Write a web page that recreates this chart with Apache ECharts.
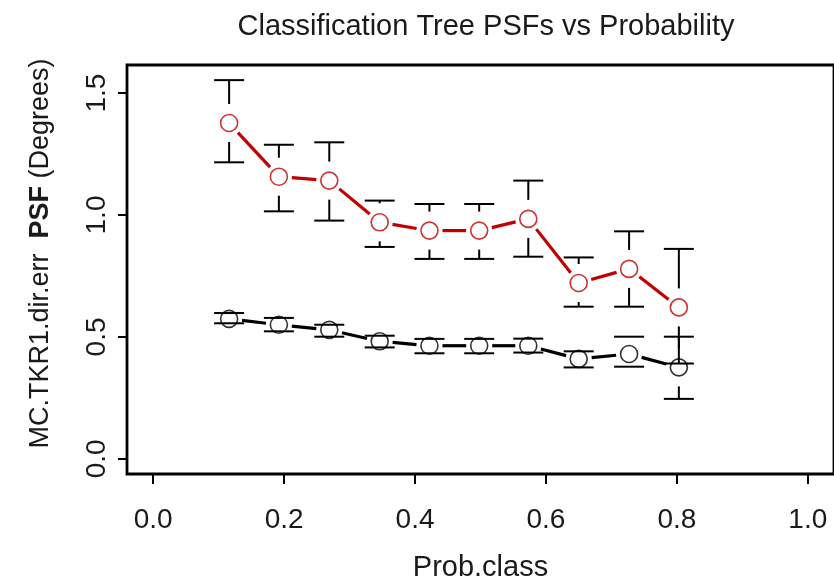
<!DOCTYPE html>
<html>
<head>
<meta charset="utf-8">
<script src="https://cdn.jsdelivr.net/npm/echarts@6/dist/echarts.min.js"></script>
<style>
  html, body { margin: 0; padding: 0; background: #fff; }
  #chart { width: 834px; height: 582px; }
</style>
</head>
<body>
<div id="chart"></div>
<script>
// Bin centres of the classification probability
const probClass = [0.116, 0.192, 0.269, 0.346, 0.422, 0.498, 0.573, 0.650, 0.727, 0.803];

// PSF (degrees), red series: mean with lower / upper error limits
const psfRed     = [1.377, 1.157, 1.141, 0.970, 0.936, 0.936, 0.984, 0.721, 0.779, 0.621];
const psfRedLow  = [1.216, 1.015, 0.977, 0.869, 0.820, 0.820, 0.829, 0.624, 0.624, 0.391];
const psfRedHigh = [1.553, 1.288, 1.298, 1.059, 1.045, 1.045, 1.141, 0.826, 0.933, 0.861];

// PSF (degrees), black series
const psfBlack     = [0.574, 0.550, 0.529, 0.482, 0.464, 0.464, 0.464, 0.410, 0.430, 0.375];
const psfBlackLow  = [0.556, 0.523, 0.501, 0.457, 0.433, 0.433, 0.436, 0.375, 0.378, 0.246];
const psfBlackHigh = [0.598, 0.578, 0.550, 0.505, 0.492, 0.492, 0.493, 0.441, 0.501, 0.501];

const xTicks = [0.0, 0.2, 0.4, 0.6, 0.8, 1.0];
const yTicks = [0.0, 0.5, 1.0, 1.5];

const FONT = '"Liberation Sans", Arial, sans-serif';
const RED = '#c00000';
const BLACK = '#000000';
const TEXT = '#1a1a1a';

// Error bar: caps at both limits, whiskers leave a gap around the point
function errorBarRenderer(color) {
  const cap = 15, gap = 19;
  return function (params, api) {
    const x = api.value(0);
    const c = api.coord([x, api.value(1)]);
    const lo = api.coord([x, api.value(2)]);
    const hi = api.coord([x, api.value(3)]);
    const style = { stroke: color, lineWidth: 2 };
    const children = [
      { type: 'line', shape: { x1: lo[0] - cap, y1: lo[1], x2: lo[0] + cap, y2: lo[1] }, style },
      { type: 'line', shape: { x1: hi[0] - cap, y1: hi[1], x2: hi[0] + cap, y2: hi[1] }, style }
    ];
    if (hi[1] < c[1] - gap) {
      children.push({ type: 'line', shape: { x1: hi[0], y1: hi[1], x2: hi[0], y2: c[1] - gap }, style });
    }
    if (lo[1] > c[1] + gap) {
      children.push({ type: 'line', shape: { x1: lo[0], y1: lo[1], x2: lo[0], y2: c[1] + gap }, style });
    }
    return { type: 'group', children };
  };
}

// Connecting segments that stop short of each point marker
function segmentRenderer(color) {
  const gap = 13;
  return function (params, api) {
    const p1 = api.coord([api.value(0), api.value(1)]);
    const p2 = api.coord([api.value(2), api.value(3)]);
    const dx = p2[0] - p1[0], dy = p2[1] - p1[1];
    const d = Math.sqrt(dx * dx + dy * dy);
    if (d <= 2 * gap) return null;
    const ux = dx / d, uy = dy / d;
    return {
      type: 'line',
      shape: { x1: p1[0] + ux * gap, y1: p1[1] + uy * gap, x2: p2[0] - ux * gap, y2: p2[1] - uy * gap },
      style: { stroke: color, lineWidth: 3.2 }
    };
  };
}

function segments(xs, ys) {
  const out = [];
  for (let i = 0; i < xs.length - 1; i++) out.push([xs[i], ys[i], xs[i + 1], ys[i + 1]]);
  return out;
}
function bars(xs, ys, lo, hi) {
  return xs.map((x, i) => [x, ys[i], lo[i], hi[i]]);
}
function points(xs, ys) {
  return xs.map((x, i) => [x, ys[i]]);
}

const chart = echarts.init(document.getElementById('chart'), null, { renderer: 'canvas' });

chart.setOption({
  animation: false,
  backgroundColor: '#ffffff',
  title: {
    text: 'Classification Tree PSFs vs Probability',
    left: 481,
    top: 7,
    textAlign: 'center',
    textStyle: { fontFamily: FONT, fontSize: 29, fontWeight: 'normal', color: TEXT }
  },
  grid: {
    left: 127, right: 0, top: 65, bottom: 108,
    outerBoundsMode: 'none',
    containLabel: false,
    show: true, borderColor: '#000', borderWidth: 2.8, backgroundColor: 'transparent'
  },
  xAxis: {
    type: 'value',
    min: -0.04, max: 1.04,
    axisLine: { show: false, onZero: false },
    splitLine: { show: false },
    axisTick: { show: true, customValues: xTicks, length: 10, lineStyle: { color: '#000', width: 2 } },
    axisLabel: {
      customValues: xTicks, margin: 32,
      formatter: v => v.toFixed(1),
      fontFamily: FONT, fontSize: 28, color: TEXT
    },
    name: 'Prob.class',
    nameLocation: 'middle',
    nameGap: 79,
    nameTextStyle: { fontFamily: FONT, fontSize: 29, color: TEXT }
  },
  yAxis: {
    type: 'value',
    min: -0.062, max: 1.615,
    axisLine: { show: false, onZero: false },
    splitLine: { show: false },
    axisTick: { show: true, customValues: yTicks, length: 9, lineStyle: { color: '#000', width: 2 } },
    axisLabel: {
      customValues: yTicks, margin: 16, rotate: 90,
      formatter: v => v.toFixed(1),
      fontFamily: FONT, fontSize: 28, color: TEXT
    },
    name: '{n|MC.TKR1.dir.err}  {b|PSF} {n|(Degrees)}',
    nameLocation: 'middle',
    nameRotate: 90,
    nameGap: 73,
    nameTextStyle: {
      fontFamily: FONT, fontSize: 27, color: TEXT,
      padding: [0, 0, 0, 32],
      rich: {
        n: { fontFamily: FONT, fontSize: 27, color: TEXT },
        b: { fontFamily: FONT, fontSize: 27, color: TEXT, fontWeight: 'bold' }
      }
    }
  },
  series: [
    {
      type: 'custom', name: 'black-bars', renderItem: errorBarRenderer(BLACK),
      data: bars(probClass, psfBlack, psfBlackLow, psfBlackHigh), encode: { x: 0, y: [2, 3] }, z: 2
    },
    {
      type: 'custom', name: 'black-line', renderItem: segmentRenderer(BLACK),
      data: segments(probClass, psfBlack), encode: { x: [0, 2], y: [1, 3] }, z: 2
    },
    {
      type: 'scatter', name: 'black-points', data: points(probClass, psfBlack),
      symbol: 'circle', symbolSize: 17,
      itemStyle: { color: 'rgba(0,0,0,0)', borderColor: BLACK, borderWidth: 1.6 }, z: 3
    },
    {
      type: 'custom', name: 'red-bars', renderItem: errorBarRenderer(BLACK),
      data: bars(probClass, psfRed, psfRedLow, psfRedHigh), encode: { x: 0, y: [2, 3] }, z: 2
    },
    {
      type: 'custom', name: 'red-line', renderItem: segmentRenderer(RED),
      data: segments(probClass, psfRed), encode: { x: [0, 2], y: [1, 3] }, z: 2
    },
    {
      type: 'scatter', name: 'red-points', data: points(probClass, psfRed),
      symbol: 'circle', symbolSize: 17,
      itemStyle: { color: 'rgba(0,0,0,0)', borderColor: RED, borderWidth: 1.6 }, z: 3
    }
  ]
});
</script>
</body>
</html>
